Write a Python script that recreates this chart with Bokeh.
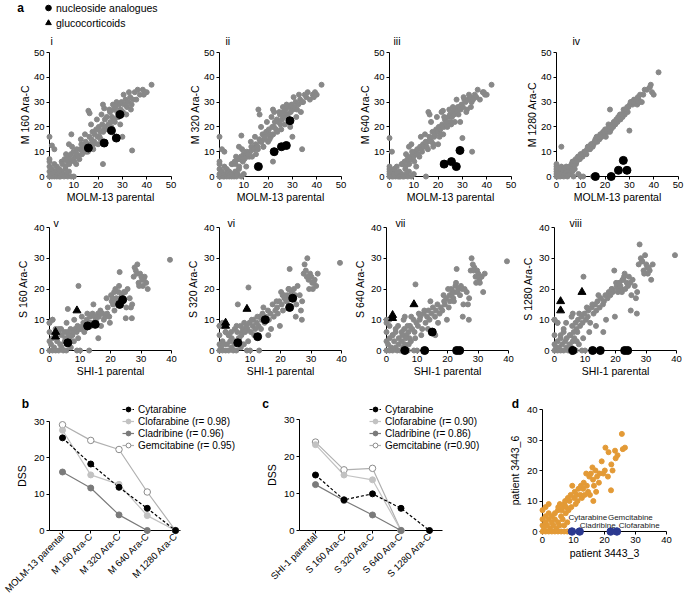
import math
import numpy as np
from bokeh.plotting import figure
from bokeh.models import Range1d, Label, Legend, LegendItem
from bokeh.layouts import row, column
from bokeh.embed import file_html
from bokeh.resources import INLINE
from bokeh.core.properties import value

FONT = "Liberation Sans"
GREY = "#888888"

# ---------------- data: panel a, MOLM-13 (top row) ----------------
MOLM_X = [0, 0, 0, 0, 0, 0.5, 1, 1, 1.5, 2, 2, 2.5, 3, 3, 3.5, 4, 4, 4.5, 5, 5, 5.5, 6, 6.5, 7, 7.5, 8, 9, 10,
          0, 1, 2, 9, 8, 11,
          5.3, 6.2, 6.6, 7.4, 7.9, 8.3, 8.8, 9.6, 9.9, 10.7, 11.2, 11.4, 12.3, 12.6, 13.1, 13.8, 14.2, 14.9,
          15.3, 15.6, 16.4, 16.8, 17.3, 17.7, 18.4, 18.6, 19.2, 19.8, 20.3, 20.9, 21.1, 21.7, 22.4, 22.8,
          23.3, 23.6, 24.2, 24.9, 25.1, 25.7, 26.3, 26.6, 27.2, 27.9, 28.1, 28.7, 29.3, 29.6, 30.2, 30.8,
          31.3, 31.9, 32.4, 33.2, 33.8, 35.1, 35.7, 37.2, 38.4, 39.3,
          16, 16.5, 22, 22.5, 30, 34, 22, 40, 42, 15, 18, 20,
          6.8, 8.1, 9.3, 10.2, 11.8, 12.9, 13.4, 14.6, 15.8, 17.1, 18.1, 19.5, 20.6, 21.4, 22.1, 23.8,
          24.6, 25.4, 26.1, 26.9, 27.6, 28.4, 29.1, 30.5, 31.6, 32.7, 33.5, 34.4, 36.3, 38.8]
M160_Y = [0, 2, 4, 6, 7, 1, 0, 3, 1, 0, 5, 2, 0, 4, 1, 0, 3, 0, 2, 6, 1, 0, 3, 1, 0, 2, 0, 0,
          16, 12.5, 11, 17, 13, 5,
          5, 7, 4, 6, 8, 6, 9, 7, 10, 8, 11, 9, 7, 11, 13, 10, 12, 14, 11, 13,
          16, 13, 15, 18, 14, 17, 19, 16, 20, 18, 15, 21, 19, 23, 20, 24, 21, 26, 22, 24,
          27, 23, 28, 26, 24, 29, 27, 30, 26, 29, 31, 28, 30, 32, 29, 34, 31, 33, 35, 34,
          26.5, 25.5, 29, 27.5, 16, 10.5, 5, 34, 37, 10, 11, 13,
          9, 5, 12, 6, 8, 15, 9, 17, 10, 21, 13, 23, 16, 25, 18, 19, 27, 20, 29, 22,
          30, 24, 21, 33, 25, 34, 27, 31, 35, 33]
M320_Y = [0, 1, 3, 5, 6, 0, 1, 2, 0, 0, 4, 1, 0, 3, 2, 0, 2, 1, 0, 5, 1, 0, 2, 0, 1, 3, 0, 1,
          16, 11, 10, 16.5, 12, 4,
          5, 6, 5, 7, 7, 7, 8, 6, 9, 9, 10, 8, 8, 10, 12, 11, 11, 13, 12, 12,
          15, 14, 14, 17, 15, 16, 18, 17, 19, 17, 16, 20, 20, 22, 19, 23, 22, 25, 21, 23,
          26, 24, 27, 25, 25, 28, 26, 29, 27, 28, 30, 27, 29, 31, 30, 33, 32, 31, 33, 34,
          27, 25, 27, 26, 16, 11, 6, 33, 37, 9, 12, 14,
          8, 4, 11, 7, 9, 14, 8, 16, 11, 20, 12, 22, 15, 24, 17, 18, 26, 19, 28, 21,
          29, 23, 20, 32, 24, 33, 26, 30, 34, 32]
M640_Y = [0, 2, 4, 3, 1, 1, 0, 2, 0, 1, 3, 0, 1, 4, 0, 0, 2, 0, 1, 5, 0, 0, 3, 1, 0, 2, 0, 1,
          15.5, 10, 3, 13, 12, 4,
          5, 6, 4, 7, 6, 8, 7, 9, 8, 10, 9, 11, 8, 12, 11, 13, 12, 14, 12, 14,
          16, 15, 14, 18, 16, 17, 19, 18, 20, 19, 17, 21, 20, 23, 21, 22, 24, 25, 22, 24,
          26, 25, 27, 26, 28, 28, 27, 29, 28, 31, 30, 27, 31, 32, 30, 33, 32, 31, 34, 33,
          26, 25, 26.5, 24, 15.5, 10, 4.5, 33, 37, 0, 12, 13,
          9, 5, 10, 6, 9, 16, 10, 17, 11, 22, 13, 24, 16, 26, 17, 20, 27, 21, 28, 22,
          31, 25, 22, 32, 26, 33, 28, 31, 35, 34]
M1280_Y = [0, 1, 3, 4, 5, 0, 2, 1, 0, 3, 4, 2, 0, 3, 1, 2, 4, 0, 3, 2, 1, 4, 2, 0, 3, 5, 1, 0,
           2, 1, 12, 7, 6, 0,
           4, 5, 6, 5, 7, 6, 8, 7, 9, 8, 9, 10, 9, 11, 12, 11, 13, 12, 13, 14,
           15, 14, 16, 15, 17, 16, 18, 17, 16, 19, 18, 20, 19, 21, 20, 22, 21, 23, 22, 24,
           23, 25, 24, 26, 25, 27, 26, 28, 29, 30, 29, 31, 30, 29, 31, 30, 33, 35, 36, 34,
           15, 16, 27, 20, 18.5, 30, 18, 33, 42, 0, 17, 19,
           6, 6, 8, 9, 10, 12, 11, 13, 14, 16, 16, 18, 19, 21, 20, 22, 23, 24, 25, 25,
           27, 27, 28, 30, 30, 31, 32, 33, 35, 37]
NUC_MOLM_X = [16, 22.5, 25.5, 27.5, 29]
NUC_M160_Y = [11.5, 13.5, 18.5, 15.5, 25]
NUC_M320_Y = [4, 10, 12, 12.5, 22.5]
NUC_M640_X = [22.5, 25.5, 27.5, 29]
NUC_M640_Y = [5, 6, 4, 10.5]
NUC_M1280_Y = [0, 0, 2.5, 6.5, 2.5]

# ---------------- data: panel a, SHI-1 (second row) ----------------
SHI_X = [0, 0, 0, 0, 0.5, 1, 1, 1.5, 2, 2, 2.5, 3, 3, 3.5, 4, 4, 4.5, 5, 5, 5.5, 6, 6.5, 7, 7.5, 8, 1, 2, 3, 9, 10,
         5.2, 5.8, 6.3, 6.9, 7.2, 7.7, 8.4, 8.9, 9.2, 9.8, 10.3, 10.9, 11.1, 11.7, 12.2, 12.8, 13.3, 13.7,
         14.1, 14.8, 15.2, 15.9, 16.2, 16.7, 17.4, 17.8, 18.3, 18.9, 19.1, 19.6, 20.4, 20.8, 21.3, 21.9, 22.3,
         20.2, 20.7, 21.6, 22.1, 22.6, 23.2, 23.7, 24.1, 24.4, 25.2, 25.6, 26.3, 27.1, 27.6, 27.9, 28.3,
         28.8, 29.2, 29.7, 30.1, 30.4, 30.6, 31.2, 31.7, 32.2,
         9.5, 13, 16, 0, 1, 6, 25, 27, 23, 39.5,
         3.8, 5.6, 7.3, 8.1, 9.4, 10.6, 11.4, 12.4, 13.6, 14.4, 16.9, 18.7, 19.8, 21.2, 22.8, 24.8,
         26.7, 28.6, 29.4, 30.9]
S160_Y = [0, 3, 6, 9, 2, 0, 4, 1, 5, 0, 3, 7, 0, 2, 5, 1, 0, 3, 6, 0, 2, 4, 1, 5, 3, 10, 7, 6, 0, 0,
          4, 6, 5, 7, 5, 6, 7, 6, 8, 7, 7, 8, 9, 7, 10, 9, 11, 9, 12, 11,
          10, 12, 11, 13, 12, 10, 11, 12, 14, 11, 16, 15, 13, 17, 15,
          18, 17, 20, 16, 19, 17, 18, 16, 19, 14, 20, 17, 15, 24, 27, 26, 28, 22, 25, 24,
          23, 21, 24, 22, 20,
          21, 0, 4, 9, 10, 13.5, 10.5, 10.5, 25.5, 29.5,
          7, 9, 3, 10, 4, 11, 6, 12, 8, 15, 8, 17, 9, 19, 21, 19, 14, 25, 21, 23]
S320_Y = [0, 2, 5, 8, 1, 0, 3, 2, 6, 0, 2, 5, 0, 3, 4, 1, 0, 2, 7, 0, 3, 4, 1, 6, 2, 8, 6, 5, 0, 0,
          3, 6, 4, 8, 5, 7, 6, 8, 7, 9, 6, 8, 10, 7, 9, 8, 11, 10, 12, 9,
          11, 13, 10, 12, 15, 11, 13, 14, 12, 16, 15, 13, 17, 16, 18,
          19, 18, 17, 16, 20, 18, 19, 17, 20, 15, 21, 18, 16, 25, 28, 26, 30, 23, 25, 24,
          22, 20, 23, 21, 25,
          20.5, 0, 5, 8, 9, 15, 11, 10, 26.5, 28.5,
          6, 8, 2, 9, 3, 10, 5, 11, 7, 14, 7, 16, 8, 18, 20, 18, 13, 24, 20, 22]
S640_Y = [0, 3, 6, 10, 2, 0, 4, 1, 5, 0, 3, 6, 1, 0, 4, 2, 0, 3, 6, 1, 2, 5, 0, 4, 3, 8, 5, 7, 0, 0,
          5, 7, 4, 8, 6, 8, 7, 10, 6, 9, 8, 10, 11, 7, 12, 9, 11, 13, 10, 12,
          14, 11, 13, 15, 12, 14, 13, 16, 15, 17, 14, 16, 18, 17, 19,
          20, 18, 19, 16, 21, 19, 20, 18, 21, 15, 20, 19, 17, 26, 30, 28, 27, 24, 26, 25,
          23, 22, 24, 19, 25,
          21.5, 0, 5, 9, 10, 11, 11, 10, 26.5, 29,
          8, 10, 2, 11, 4, 12, 5, 13, 7, 16, 9, 18, 10, 20, 22, 20, 15, 26, 22, 24]
S1280_Y = [0, 2, 5, 10, 1, 0, 3, 1, 4, 0, 2, 6, 0, 3, 4, 1, 0, 2, 5, 1, 3, 4, 0, 6, 2, 9, 5, 7, 0, 0,
           5, 8, 6, 9, 7, 10, 8, 11, 9, 12, 10, 11, 13, 9, 14, 12, 15, 13, 16, 14,
           17, 15, 16, 18, 17, 19, 18, 20, 19, 26, 21, 19, 22, 20, 23,
           22, 20, 21, 19, 23, 20, 22, 21, 24, 18, 23, 21, 19, 28, 34.5, 30, 29, 26, 31, 28,
           27, 25, 26, 23, 28,
           24, 0, 6, 10, 9, 12, 13, 12, 25, 31,
           9, 11, 3, 12, 4, 14, 6, 15, 8, 18, 10, 20, 11, 22, 24, 22, 17, 29, 25, 27]
NUC_SHI_X = [6, 12.5, 15, 23, 24]
NUC_S160_Y = [2.5, 8, 8.5, 15, 16.5]
NUC_S320_Y = [2.5, 4.5, 10, 14, 17]
NUC_S640_Y = [0, 0, 6, 0, 0]
NUC_S1280_Y = [0, 0, 0, 0, 0]
GLU_SHI_X = [2, 2, 9]
GLU_S160_Y = [6, 4.5, 13]
GLU_S320_Y = [9, 8, 13.5]
GLU_S640_Y = [11.5, 10.5, 15]
GLU_S1280_Y = [16, 13, 19]

# ---------------- data: panels b and c (DSS) ----------------
B_CATS = ["MOLM-13 parental", "M 160 Ara-C", "M 320 Ara-C", "M 640 Ara-C", "M 1280 Ara-C"]
B_CYT = [25.5, 18.3, 11.9, 6.1, 0]
B_CLO = [27.6, 15.3, 12.7, 4.1, 0]
B_CLA = [16.1, 11.7, 4.3, 0]
B_GEM = [29.1, 24.8, 22.3, 10.6, 0]
B_LABELS = ["Cytarabine", "Clofarabine (r= 0.98)", "Cladribine (r= 0.96)", "Gemcitabine (r= 0.95)"]

C_CATS = ["SHI-1 parental", "S 160 Ara-C", "S 320 Ara-C", "S 640 Ara-C", "S 1280 Ara-C"]
C_CYT = [15.0, 8.3, 9.9, 6.0, 0]
C_CLO = [23.2, 15.0, 13.7, 0]
C_CLA = [12.4, 8.1, 4.2, 0]
C_GEM = [23.9, 16.4, 16.8, 0]
C_LABELS = ["Cytarabine", "Clofarabine (r= 0.90)", "Cladribine (r= 0.86)", "Gemcitabine (r=0.90)"]

# ---------------- data: panel d (patient) ----------------
D_X = [0, 0, 0, 0, 0.5, 1, 1, 1, 1.5, 2, 2, 2, 2.5, 3, 3, 3, 3.5, 4, 4, 4, 4.5, 5, 5, 5, 5.5, 6, 6, 6.5, 7, 7,
       7.5, 8, 8, 1, 2,
       5.1, 5.6, 6.2, 6.4, 7.1, 7.3, 7.6, 8.2, 8.4, 8.7, 9.1, 9.3, 9.6, 10.2, 10.4, 10.7, 11.1, 11.3, 11.6, 12.2,
       12.4, 12.7, 13.1, 13.3, 13.6, 14.1, 14.3, 14.7, 15.1, 15.3, 15.6, 16.1, 16.3, 16.6, 17.1, 17.3, 17.6,
       18.2, 19.1, 19.6, 20.1, 20.3, 21.1, 21.3, 22.1,
       22.2, 22.6, 23.4, 23.6, 24.2, 25.6, 25.9, 26.6, 18.4, 16.4]
D_Y = [0, 2, 4, 7, 1, 0, 3, 5, 2, 0, 4, 6, 1, 0, 3, 5, 2, 0, 4, 6, 1, 0, 3, 7, 2, 0, 5, 4, 0, 2,
       6, 0, 3, 8, 9,
       8, 9, 7, 8, 9, 10, 8, 11, 7, 10, 12, 8, 15, 11, 13, 9, 12, 10, 14, 12,
       15, 11, 14, 16, 12, 19, 15, 13, 18, 12, 19, 21, 17, 15, 20, 13, 18, 16, 23, 19,
       20, 27.5, 18, 26, 13.5,
       22, 20, 26.5, 24, 25, 32, 27, 27.5, 19, 10]
D_DRUGS = ["Cytarabine", "Cladribine", "Gemcitabine", "Clofarabine"]
D_DRUG_X = [9.5, 12, 22, 24]
D_DRUG_Y = [0, 0, 0, 0]


# ---------------- helpers ----------------
def make_fig(box, ax0, ay0, sx, sy):
    """Figure whose frame covers the whole box; data 0 sits at screen (ax0, ay0)."""
    X0, X1, Y0, Y1 = box
    xr = ((X0 - ax0) / sx, (X1 - ax0) / sx)
    yr = ((ay0 - Y1) / sy, (ay0 - Y0) / sy)
    p = figure(width=X1 - X0, height=Y1 - Y0, x_range=Range1d(*xr), y_range=Range1d(*yr),
               output_backend="svg", toolbar_location=None,
               min_border=0, min_border_left=0, min_border_right=0,
               min_border_top=0, min_border_bottom=0)
    p.outline_line_color = None
    p.xgrid.visible = False
    p.ygrid.visible = False
    p.background_fill_color = "white"
    p.border_fill_color = "white"
    p._box = box
    return p


def style_axes(p, xticks, yticks, xlabel, ylabel, xloc=0, yloc=0, xb=None, yb=None,
               xstand=0, ystand=1):
    p.xaxis.ticker = xticks
    p.yaxis.ticker = yticks
    p.xaxis.axis_label = xlabel
    p.yaxis.axis_label = ylabel
    p.xaxis.fixed_location = xloc
    p.yaxis.fixed_location = yloc
    p.xaxis.bounds = xb if xb is not None else (xticks[0], xticks[-1])
    p.yaxis.bounds = yb if yb is not None else (yticks[0], yticks[-1])
    for ax in (p.xaxis[0], p.yaxis[0]):
        ax.major_tick_in = 0
        ax.major_tick_out = 3
        ax.minor_tick_line_color = None
        ax.axis_line_color = "black"
        ax.axis_line_width = 1
        ax.major_tick_line_color = "black"
        ax.major_label_text_font = FONT
        ax.major_label_text_font_size = "9.5px"
        ax.major_label_text_color = "black"
        ax.major_label_standoff = 2
        ax.axis_label_text_font = FONT
        ax.axis_label_text_font_size = "10.5px"
        ax.axis_label_text_font_style = "normal"
        ax.axis_label_text_color = "black"
    p.xaxis.axis_label_standoff = xstand
    p.yaxis.axis_label_standoff = ystand


def add_label(p, text, sx, sy, size="10.5px", bold=False, align="left"):
    X0, X1, Y0, Y1 = p._box
    p.add_layout(Label(x=sx - X0, y=Y1 - sy, x_units="screen", y_units="screen", text=text,
                       text_font=FONT, text_font_size=size,
                       text_font_style="bold" if bold else "normal",
                       text_align=align, text_baseline="middle", text_color="#000000"))


def make_legend(items, loc, gw, gh, standoff, size):
    return Legend(items=items, location=loc, orientation="vertical",
                  glyph_width=gw, glyph_height=gh, label_height=gh, label_width=10,
                  label_standoff=standoff, spacing=0, padding=0, margin=0,
                  label_text_font=FONT, label_text_font_size=size, label_text_color="#000000",
                  background_fill_alpha=0, border_line_alpha=0)


COLS = [(0, 182), (182, 352), (352, 521), (521, 685)]

# ---------------- top row ----------------
TOP_AX = [49, 219, 389, 556]
top_y = [M160_Y, M320_Y, M640_Y, M1280_Y]
top_bx = [NUC_MOLM_X, NUC_MOLM_X, NUC_M640_X, NUC_MOLM_X]
top_by = [NUC_M160_Y, NUC_M320_Y, NUC_M640_Y, NUC_M1280_Y]
top_ylab = ["M 160 Ara-C", "M 320 Ara-C", "M 640 Ara-C", "M 1280 Ara-C"]
top_num = ["i", "ii", "iii", "iv"]
top_num_x = [50, 225, 393, 572]
top_figs = []
for k in range(4):
    p = make_fig((COLS[k][0], COLS[k][1], 0, 212), TOP_AX[k], 176, 2.43, 2.48)
    style_axes(p, [0, 10, 20, 30, 40, 50], [0, 10, 20, 30, 40, 50], "MOLM-13 parental", top_ylab[k],
               ystand=0)
    p.scatter(MOLM_X, top_y[k], size=5, color=GREY, level="overlay")
    rb = p.scatter(top_bx[k], top_by[k], size=8, color="black", level="overlay")
    add_label(p, top_num[k], top_num_x[k], 40)
    if k == 0:
        # glucocorticoid symbol for the key: MOLM-13 panels show no glucocorticoids, so the
        # series is mapped on a far-away range and never lands inside this panel.
        p.extra_y_ranges = {"key_only": Range1d(1000, 1100)}
        rt = p.scatter(GLU_SHI_X, GLU_S160_Y, marker="triangle", size=8, color="black",
                       y_range_name="key_only")
        leg = make_legend([LegendItem(label="nucleoside analogues", renderers=[rb]),
                           LegendItem(label="glucocorticoids", renderers=[rt])],
                          (41, 212 - 30), 14, 15, 1, "10.5px")
        p.add_layout(leg)
        add_label(p, "a", 20, 7, size="12px", bold=True, align="center")
    top_figs.append(p)

# ---------------- second row ----------------
SEC_AX = [49, 219, 386, 554]
sec_y = [S160_Y, S320_Y, S640_Y, S1280_Y]
sec_by = [NUC_S160_Y, NUC_S320_Y, NUC_S640_Y, NUC_S1280_Y]
sec_ty = [GLU_S160_Y, GLU_S320_Y, GLU_S640_Y, GLU_S1280_Y]
sec_ylab = ["S 160 Ara-C", "S 320 Ara-C", "S 640 Ara-C", "S 1280 Ara-C"]
sec_num = ["v", "vi", "vii", "viii"]
sec_num_x = [53, 227, 395, 569]
sec_figs = []
for k in range(4):
    p = make_fig((COLS[k][0], COLS[k][1], 212, 390), SEC_AX[k], 350, 3.05, 3.075)
    style_axes(p, [0, 10, 20, 30, 40], [0, 10, 20, 30, 40], "SHI-1 parental", sec_ylab[k], ystand=2)
    p.scatter(SHI_X, sec_y[k], size=5, color=GREY, level="overlay")
    p.scatter(NUC_SHI_X, sec_by[k], size=8, color="black", level="overlay")
    p.scatter(GLU_SHI_X, sec_ty[k], marker="triangle", size=8, color="black", level="overlay")
    add_label(p, sec_num[k], sec_num_x[k], 222)
    sec_figs.append(p)


# ---------------- panels b and c ----------------
def dss_panel(cats, cyt, clo, cla, gem, labels, box, ax_x, cat0, step, y0, sy, xend,
              leg_left, letter, letter_x):
    p = make_fig(box, cat0, y0, step, sy)
    yloc = (ax_x - cat0) / step
    xhi = (xend - cat0) / step
    style_axes(p, list(range(len(cats))), [0, 10, 20, 30], None, "DSS",
               xloc=0, yloc=yloc, xb=(yloc, xhi), yb=(0, 30), ystand=3)
    p.xaxis.axis_label = None
    p.xaxis.major_label_overrides = {i: c for i, c in enumerate(cats)}
    p.xaxis.major_label_orientation = math.pi / 4
    p.xaxis.major_label_text_font_size = "9.5px"
    p.xaxis.major_label_standoff = 1
    gl = p.line(list(range(len(gem))), gem, color="#b0b0b0", line_width=1.2)
    gs = p.scatter(list(range(len(gem))), gem, size=6.5, fill_color="white", line_color="#8c8c8c",
                   line_width=1, level="overlay")
    ol = p.line(list(range(len(clo))), clo, color="#c2c2c2", line_width=1.2)
    os_ = p.scatter(list(range(len(clo))), clo, size=6, color="#c2c2c2", level="overlay")
    al = p.line(list(range(len(cla))), cla, color="#7a7a7a", line_width=1.2)
    as_ = p.scatter(list(range(len(cla))), cla, size=6, color="#7a7a7a", level="overlay")
    cl = p.line(list(range(len(cyt))), cyt, color="black", line_width=1.2, line_dash="3 2")
    cs = p.scatter(list(range(len(cyt))), cyt, size=6, color="black", level="overlay")
    X0, X1, Y0, Y1 = box
    leg = make_legend([LegendItem(label=labels[0], renderers=[cl, cs]),
                       LegendItem(label=labels[1], renderers=[ol, os_]),
                       LegendItem(label=labels[2], renderers=[al, as_]),
                       LegendItem(label=labels[3], renderers=[gl, gs])],
                      (leg_left - X0, Y1 - 451), 12, 12, 4, "10px")
    p.add_layout(leg)
    add_label(p, letter, letter_x, 403, size="12px", bold=True, align="center")
    return p


fb = dss_panel(B_CATS, B_CYT, B_CLO, B_CLA, B_GEM, B_LABELS, (0, 245, 390, 605),
               49, 62, 28.25, 530, 109 / 30, 180, 122, "b", 25)
fc = dss_panel(C_CATS, C_CYT, C_CLO, C_CLA, C_GEM, C_LABELS, (245, 490, 390, 605),
               299, 315, 28.5, 530, 111 / 30, 442, 369, "c", 265)

# ---------------- panel d ----------------
fd = make_fig((490, 685, 390, 605), 542, 531, 3.1, 3.05)
style_axes(fd, [0, 10, 20, 30, 40], [0, 10, 20, 30, 40], "patient 3443_3", "patient 3443_6",
           xstand=1, ystand=3)
fd.scatter(D_X, D_Y, size=5, color="#e39a36", level="overlay")
fd.scatter(D_DRUG_X, D_DRUG_Y, size=7.5, color="#2b3990", level="overlay")
lab_dx = np.array([-1.1, 0.0, -0.9, 0.6])
lab_y = np.array([4.6, 1.9, 4.6, 1.9])
fd.text(x=np.array(D_DRUG_X) + lab_dx, y=np.array(D_DRUG_Y) + lab_y, text=D_DRUGS,
        text_font=value(FONT), text_font_size="8px", text_baseline="middle", text_align="left",
        text_color="#222222", level="overlay")
add_label(fd, "d", 515, 403, size="12px", bold=True, align="center")

layout = column(row(*top_figs), row(*sec_figs), row(fb, fc, fd))

with open("out.html", "w") as f:
    f.write(file_html(layout, INLINE))
